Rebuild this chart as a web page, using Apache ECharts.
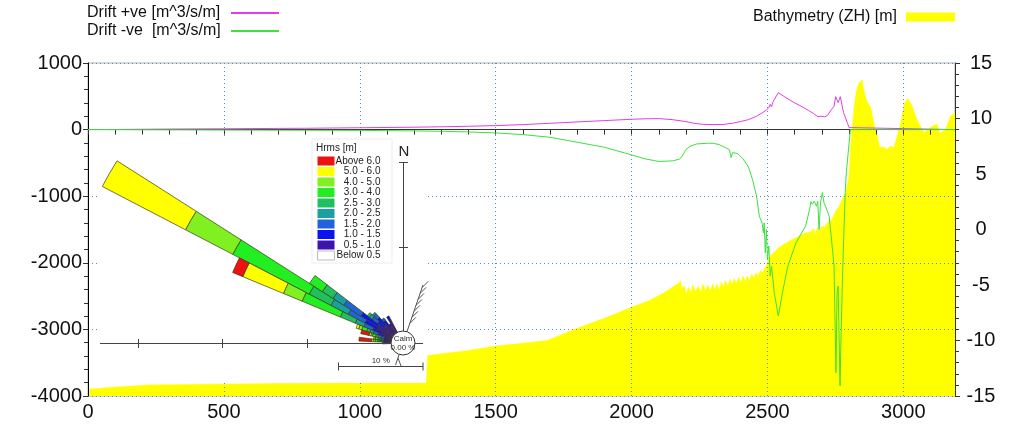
<!DOCTYPE html>
<html><head><meta charset="utf-8">
<script src="https://cdn.jsdelivr.net/npm/echarts/dist/echarts.min.js"></script>
<style>html,body{margin:0;padding:0;background:#fff}#c{width:1023px;height:429px}</style>
</head><body><div id="c"></div>
<script>
// ---------- main profile data ----------
const driftPos = [[0,0],[100,2],[200,5],[300,8],[400,10],[500,12],[600,15],[700,18],[800,20],[900,24],[1000,28],[1100,32],[1200,36],[1300,42],[1400,50],[1500,60],[1600,75],[1700,95],[1800,115],[1900,135],[2000,155],[2050,162],[2100,165],[2150,150],[2200,120],[2230,95],[2260,80],[2300,75],[2340,78],[2370,95],[2400,120],[2430,150],[2460,200],[2480,250],[2495,290],[2505,330],[2510,380],[2515,340],[2520,410],[2525,450],[2530,420],[2540,555],[2560,500],[2580,450],[2600,400],[2620,360],[2650,290],[2670,240],[2685,195],[2690,180],[2700,200],[2710,190],[2720,210],[2735,300],[2745,350],[2751,495],[2760,405],[2768,495],[2780,255],[2795,90],[2800,30],[2805,0],[3190,0]];
const driftNeg = [[0,0],[200,-3],[400,-5],[600,-8],[800,-10],[1000,-12],[1100,-15],[1200,-20],[1300,-25],[1400,-35],[1500,-50],[1600,-75],[1700,-115],[1800,-190],[1900,-265],[2000,-380],[2050,-440],[2100,-478],[2150,-470],[2175,-445],[2183,-420],[2190,-400],[2200,-300],[2215,-250],[2240,-215],[2280,-205],[2300,-205],[2322,-225],[2345,-270],[2360,-300],[2366,-420],[2372,-345],[2390,-360],[2410,-440],[2430,-560],[2445,-750],[2460,-1000],[2470,-1300],[2480,-1400],[2485,-1550],[2488,-1400],[2492,-1850],[2496,-1500],[2500,-1950],[2505,-1750],[2510,-2200],[2515,-2050],[2525,-2450],[2540,-2800],[2555,-2450],[2575,-2050],[2605,-1700],[2640,-1450],[2655,-1200],[2660,-1080],[2665,-1120],[2672,-1075],[2680,-1150],[2685,-1075],[2690,-1500],[2695,-1100],[2702,-945],[2708,-1100],[2716,-1175],[2727,-1300],[2738,-1750],[2745,-2050],[2752,-3650],[2756,-2450],[2760,-2350],[2767,-3850],[2771,-3050],[2778,-1950],[2786,-945],[2790,-650],[2797,-345],[2805,0],[3190,0]];
const bathymetry = [[0,-14.4],[100,-14.2],[230,-14.0],[600,-13.9],[1000,-13.8],[1245,-13.7],[1250,-11.35],[1300,-11.2],[1400,-10.9],[1500,-10.5],[1600,-10.25],[1690,-10.0],[1750,-9.4],[1800,-8.9],[1900,-8.0],[2000,-7.0],[2065,-6.4],[2120,-5.7],[2175,-4.8],[2180,-4.6],[2185,-5.3],[2195,-5.1],[2200,-5.8],[2210,-5.2],[2218,-5.7],[2225,-5.0],[2235,-5.6],[2245,-5.1],[2255,-5.7],[2262,-4.9],[2272,-5.5],[2280,-5.0],[2290,-5.6],[2298,-4.9],[2306,-5.4],[2315,-4.9],[2322,-5.5],[2330,-4.7],[2338,-5.2],[2346,-4.6],[2354,-5.1],[2362,-4.5],[2370,-5.0],[2378,-4.4],[2386,-4.9],[2394,-4.3],[2402,-4.8],[2410,-4.2],[2418,-4.7],[2426,-4.2],[2434,-4.6],[2442,-4.0],[2450,-4.4],[2458,-3.9],[2466,-4.2],[2474,-3.7],[2482,-3.9],[2490,-3.5],[2497,-3.2],[2503,-2.6],[2518,-2.2],[2543,-1.6],[2570,-1.2],[2591,-0.9],[2615,-0.6],[2642,-0.3],[2660,-0.2],[2670,0.1],[2675,-0.4],[2685,0.2],[2690,-0.2],[2700,0.3],[2710,0.2],[2720,0.6],[2730,0.7],[2738,1.0],[2745,1.3],[2752,1.7],[2764,2.1],[2775,2.7],[2790,3.5],[2800,4.8],[2808,8.1],[2819,11.1],[2828,12.6],[2837,13.2],[2848,13.5],[2855,12.5],[2866,11.5],[2880,11.0],[2892,9.5],[2905,8.4],[2912,7.4],[2930,7.4],[2940,7.2],[2952,7.5],[2966,7.4],[2977,8.4],[2990,9.6],[3003,11.3],[3015,11.8],[3027,11.4],[3040,10.6],[3050,9.9],[3063,9.3],[3076,8.7],[3090,9.0],[3105,9.3],[3124,9.5],[3133,8.7],[3150,8.9],[3160,9.3],[3173,10.2],[3190,10.5]];

// ---------- wave rose data (% occurrence) ----------
const roseDirs = [270,275,280,285,290,295,300,305,310,315,320,325,330];
const h05_10 = [0.5,0.5,0.5,0.5,0.9,1.2,2.0,2.1,1.4,1.5,1.2,1.0,1.6];
const h10_15 = [0.3,0.4,0.4,0.4,0.8,1.3,1.7,2.4,1.0,1.2,0.8,0.3,0.6];
const h15_20 = [0.2,0.3,0.3,0.4,0.6,1.1,2.2,2.4,0.8,0.6,0.3,0,0];
const h20_25 = [0,0.2,0.2,0.3,0.4,1.1,2.3,1.5,0.4,0.2,0,0,0];
const h25_30 = [0,0.2,0.2,0.3,0.4,1.9,2.9,1.5,0.3,0,0,0,0];
const h30_40 = [0,0.3,0.3,0.4,0.6,4.9,10.2,1.8,0,0,0,0,0];
const h40_50 = [0,0.2,0.2,0.2,0.4,2.4,6.3,0,0,0,0,0,0];
const h50_60 = [0,0.2,0,0.2,0.3,5.2,11.1,0,0,0,0,0,0];
const hAbove6 = [0,1.5,0,1.0,0,1.3,0,0,0,0,0,0,0];
const hBelow05 = [0,0,0,0,0,0,0,0,0,0,0,0,0];
const calmPct = 0.00;
const roseClassNames = ['Below 0.5','0.5 - 1.0','1.0 - 1.5','1.5 - 2.0','2.0 - 2.5','2.5 - 3.0','3.0 - 4.0','4.0 - 5.0','5.0 - 6.0','Above 6.0'];
const roseClassValues = [hBelow05,h05_10,h10_15,h15_20,h20_25,h25_30,h30_40,h40_50,h50_60,hAbove6];
const roseColors = ['#ffffff','#3c14aa','#0a14f0','#1e64dc','#1aa0a0','#20c060','#22ee22','#80f020','#ffff00','#ee1111'];

const allDirs = [];
for (let d = 0; d < 360; d += 5) allDirs.push(String(d));

// ---------- layout constants ----------
const ROSE_CX = 403, ROSE_CY = 343, CALM_R = 12, PX_PER_PCT = 8.45, ROSE_MAX = 40;
const FONT = 'Liberation Sans, Arial, sans-serif';

const roseSeries = roseClassNames.map((name, i) => {
  const data = allDirs.map(d => {
    const k = roseDirs.indexOf(+d);
    const v = k >= 0 ? roseClassValues[i][k] : 0;
    return v > 0 ? v : null;
  });
  return {
    name, type: 'bar', coordinateSystem: 'polar', stack: 'rose', data,
    barCategoryGap: '0%', z: 60, silent: true,
    itemStyle: { color: roseColors[i], borderColor: '#3a3a14', borderWidth: 0.7 }
  };
});

// decorations of the rose inset
const deco = [];
deco.push({ type: 'rect', shape: { x: 98, y: 137, width: 328, height: 246 }, style: { fill: '#fff' }, z: 50, silent: true });
deco.push({ type: 'rect', shape: { x: 312, y: 139, width: 80, height: 124 }, style: { fill: '#fff', stroke: '#ececec', lineWidth: 1 }, z: 51, silent: true });
const axStyle = { stroke: '#444', lineWidth: 1 };
deco.push({ type: 'line', shape: { x1: 100, y1: ROSE_CY + 0.5, x2: 423, y2: ROSE_CY + 0.5 }, style: axStyle, z: 65 });
for (let k = 1; k <= 3; k++) {
  const x = Math.round(ROSE_CX - CALM_R - k * 10 * PX_PER_PCT) + 0.5;
  deco.push({ type: 'line', shape: { x1: x, y1: ROSE_CY - 4, x2: x, y2: ROSE_CY + 5 }, style: axStyle, z: 65 });
}
deco.push({ type: 'line', shape: { x1: ROSE_CX + 0.5, y1: ROSE_CY, x2: ROSE_CX + 0.5, y2: ROSE_CY - CALM_R - 20 * PX_PER_PCT }, style: axStyle, z: 65 });
for (let k = 1; k <= 2; k++) {
  const y = Math.round(ROSE_CY - CALM_R - k * 10 * PX_PER_PCT) + 0.5;
  deco.push({ type: 'line', shape: { x1: ROSE_CX - 4, y1: y, x2: ROSE_CX + 5, y2: y }, style: axStyle, z: 65 });
}
deco.push({ type: 'text', x: ROSE_CX + 1, y: ROSE_CY - CALM_R - 20 * PX_PER_PCT - 10, style: { text: 'N', font: '15px ' + FONT, fill: '#222', align: 'center', verticalAlign: 'middle' }, z: 66 });
// coastline
const cA = [423, 285], cB = [395.5, 365];
deco.push({ type: 'line', shape: { x1: cA[0], y1: cA[1], x2: cB[0], y2: cB[1] }, style: { stroke: '#555', lineWidth: 1 }, z: 66 });
for (let t = 0.03; t < 0.5; t += 0.075) {
  const px = cA[0] + (cB[0] - cA[0]) * t, py = cA[1] + (cB[1] - cA[1]) * t;
  deco.push({ type: 'line', shape: { x1: px, y1: py, x2: px + 6, y2: py - 6 }, style: { stroke: '#555', lineWidth: 1 }, z: 66 });
}
deco.push({ type: 'line', shape: { x1: 398, y1: 358, x2: 401, y2: 366 }, style: { stroke: '#555', lineWidth: 1 }, z: 66 });
// calm circle
deco.push({ type: 'circle', shape: { cx: ROSE_CX, cy: ROSE_CY, r: CALM_R }, style: { fill: '#fff', stroke: '#333', lineWidth: 1 }, z: 70 });
deco.push({ type: 'text', x: ROSE_CX, y: ROSE_CY, style: { text: 'Calm\n' + calmPct.toFixed(2) + ' %', font: '8px ' + FONT, fill: '#333', align: 'center', verticalAlign: 'middle', lineHeight: 9 }, z: 71 });
// 10 % scale bar
const sbX2 = 423, sbX1 = sbX2 - 10 * PX_PER_PCT, sbY = 366.5;
deco.push({ type: 'line', shape: { x1: sbX1, y1: sbY, x2: sbX2, y2: sbY }, style: axStyle, z: 66 });
deco.push({ type: 'line', shape: { x1: sbX1, y1: sbY - 4, x2: sbX1, y2: sbY + 4 }, style: axStyle, z: 66 });
deco.push({ type: 'line', shape: { x1: sbX2, y1: sbY - 4, x2: sbX2, y2: sbY + 4 }, style: axStyle, z: 66 });
deco.push({ type: 'text', x: (sbX1 + sbX2) / 2, y: sbY - 6, style: { text: '10 %', font: '8px ' + FONT, fill: '#333', align: 'center', verticalAlign: 'middle' }, z: 66 });
deco.push({ type: 'text', x: 316, y: 148, style: { text: 'Hrms [m]', font: '10px ' + FONT, fill: '#222', align: 'left', verticalAlign: 'middle' }, z: 66 });

const gridLine = { show: true, lineStyle: { color: '#4a90d9', type: [1, 3], width: 1 } };
const axisLabelStyle = { fontFamily: FONT, fontSize: 20, color: '#111', formatter: v => String(v) };

const chart = echarts.init(document.getElementById('c'), null, { renderer: 'canvas' });
chart.setOption({
  animation: false,
  backgroundColor: '#fff',
  grid: { left: 88, right: 68, top: 63, bottom: 33, show: true, borderColor: '#b0b0b0', borderWidth: 1 },
  legend: [
    { data: [{ name: 'Drift +ve [m^3/s/m]' }, { name: 'Drift -ve  [m^3/s/m]' }], orient: 'vertical', left: 87, top: 5, padding: 0, align: 'right', icon: 'rect', itemWidth: 48, itemHeight: 2, itemGap: 2,
      formatter: '{a|{name}}', textStyle: { rich: { a: { width: 139, align: 'left', fontFamily: FONT, fontSize: 16, color: '#111', lineHeight: 16 } } } },
    { data: [{ name: 'Bathymetry (ZH) [m]' }], left: 753, top: 9, padding: 0, align: 'right', icon: 'rect', itemWidth: 49, itemHeight: 9,
      formatter: '{a|{name}}', textStyle: { rich: { a: { width: 148, align: 'left', fontFamily: FONT, fontSize: 16, color: '#111' } } } },
    { data: roseClassNames.slice().reverse().map(n => n === 'Below 0.5' ? { name: n, itemStyle: { borderColor: '#bbb', borderWidth: 1 } } : { name: n, itemStyle: { borderWidth: 0 } }),
      orient: 'vertical', left: 317, top: 156, padding: 0, icon: 'rect', itemWidth: 17, itemHeight: 9, itemGap: 0.5, z: 62, selectedMode: false,
      formatter: '{a|{name}}', textStyle: { rich: { a: { width: 41, align: 'right', fontFamily: FONT, fontSize: 10, color: '#222', lineHeight: 10 } } } }
  ],
  xAxis: {
    type: 'value', min: 0, max: 3190, interval: 500, z: 3,
    axisLine: { show: true, lineStyle: { color: '#333' } },
    axisTick: { show: true, length: 5, lineStyle: { color: '#333' } },
    minorTick: { show: true, splitNumber: 5, length: 5, lineStyle: { color: '#333' } },
    axisLabel: Object.assign({ margin: 6, showMaxLabel: false }, axisLabelStyle),
    splitLine: gridLine
  },
  yAxis: [
    { type: 'value', min: -4000, max: 1000, interval: 1000, z: 3,
      axisLine: { show: true, lineStyle: { color: '#000' } },
      axisTick: { show: true, length: 5, lineStyle: { color: '#333' } },
      minorTick: { show: true, splitNumber: 5, length: 4, lineStyle: { color: '#333' } },
      axisLabel: Object.assign({ margin: 6 }, axisLabelStyle),
      splitLine: gridLine },
    { type: 'value', min: -15, max: 15, interval: 5, position: 'right', z: 3,
      axisLine: { show: true, lineStyle: { color: '#333' } },
      axisTick: { show: true, length: 5, lineStyle: { color: '#333' } },
      minorTick: { show: true, splitNumber: 5, length: 4, lineStyle: { color: '#333' } },
      axisLabel: Object.assign({ margin: 26, align: 'center' }, axisLabelStyle),
      splitLine: { show: false } }
  ],
  polar: { center: [ROSE_CX, ROSE_CY], radius: [CALM_R, CALM_R + ROSE_MAX * PX_PER_PCT] },
  angleAxis: { type: 'category', data: allDirs, startAngle: 92.5, clockwise: true, show: false, z: 60 },
  radiusAxis: { type: 'value', min: 0, max: ROSE_MAX, show: false, z: 60 },
  graphic: { elements: deco },
  series: [
    { name: 'Bathymetry (ZH) [m]', type: 'line', yAxisIndex: 1, data: bathymetry, showSymbol: false, color: '#ffff00',
      lineStyle: { width: 0.5, color: '#ffff00' }, areaStyle: { color: '#ffff00', opacity: 1, origin: 'start' }, z: 1 },
    { name: 'Drift +ve [m^3/s/m]', type: 'line', data: driftPos, showSymbol: false, color: '#e040e0', lineStyle: { width: 1, color: '#e040e0' }, z: 4 },
    { name: 'Drift -ve  [m^3/s/m]', type: 'line', data: driftNeg, showSymbol: false, color: '#3fe03f', lineStyle: { width: 1, color: '#3fe03f' }, z: 5 }
  ].concat(roseSeries)
});
</script></body></html>
